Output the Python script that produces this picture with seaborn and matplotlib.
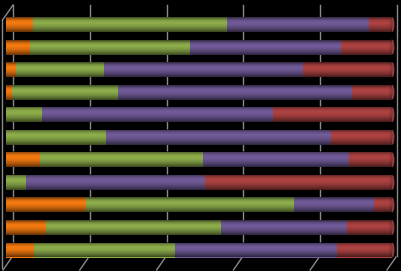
import numpy as np
import pandas as pd
import matplotlib
matplotlib.use("Agg")
import matplotlib.pyplot as plt
from matplotlib.patches import Ellipse
import seaborn as sns

# ---- data (percent shares per row) ----
rows = ["R1", "R2", "R3", "R4", "R5", "R6", "R7", "R8", "R9", "R10", "R11"]
orange = [7.0, 6.2, 2.6, 1.6, 0.0, 0.0, 8.8, 0.0, 20.7, 10.4, 7.3]
green = [50.3, 41.5, 22.8, 27.5, 9.3, 25.9, 42.2, 5.2, 53.9, 45.3, 36.5]
purple = [36.8, 39.1, 51.6, 60.6, 59.8, 58.3, 37.8, 46.4, 20.7, 32.6, 42.0]
red = [6.0, 13.2, 23.1, 10.4, 30.8, 15.8, 11.1, 48.4, 4.7, 11.7, 14.2]
series_colors = ["#F47A10", "#8DAD4B", "#715B99", "#AE4342"]

df = pd.DataFrame({"row": rows, "orange": orange, "green": green,
                   "purple": purple, "red": red})
tot = df[["orange", "green", "purple", "red"]].sum(axis=1)
for c in ["orange", "green", "purple", "red"]:
    df[c] = df[c] / tot * 100
df["c1"] = df["orange"]
df["c2"] = df["c1"] + df["green"]
df["c3"] = df["c2"] + df["purple"]
df["c4"] = df["c3"] + df["red"]

W, H = 402, 271
fig = plt.figure(figsize=(W / 100, H / 100), dpi=100, facecolor="black")
ax = fig.add_axes([0, 0, 1, 1])
ax.set_facecolor("black")

bar_h = 15 / 22.55
# draw cumulative bars from longest to shortest so they stack visually
for col, color in zip(["c4", "c3", "c2", "c1"], series_colors[::-1]):
    sns.barplot(data=df, x=col, y="row", orient="h", color=color,
                saturation=1, width=bar_h, linewidth=0, ax=ax, zorder=2)

def fx(px):
    return px / W

def fy(py):
    return 1 - py / H

# pixel -> data mapping for x: 0 -> 6px, 100 -> 392px
ppu = (392 - 6) / 100.0
ax.set_xlim(-6 / ppu, 100 + (W - 392) / ppu)
ax.set_ylim(10 + 21 / 22.55, -24.5 / 22.55)
ax.axis("off")

# cylinder shading overlay
t = np.linspace(0, 1, 60)
alpha = np.where(t < 0.38, 0.6 * ((0.38 - t) / 0.38) ** 2,
                 0.6 * ((t - 0.38) / 0.62) ** 1.6)
grad = np.zeros((len(t), 1, 4))
grad[:, 0, 3] = alpha
full = [p for p in ax.patches][:len(rows)]
for p in full:
    y0 = p.get_y()
    h = p.get_height()
    x1 = p.get_width()
    cap = Ellipse((x1, y0 + h / 2), width=5 / ppu, height=h,
                  facecolor="#94393A", edgecolor="none", lw=0, zorder=2.5)
    ax.add_patch(cap)
    ax.imshow(grad, extent=(0, x1, y0 + h, y0), aspect="auto",
              zorder=3, interpolation="bilinear")
ax.set_xlim(-6 / ppu, 100 + (W - 392) / ppu)
ax.set_ylim(10 + 21 / 22.55, -24.5 / 22.55)

# back-wall gridlines and floor diagonals
ticks = [0, 20, 40, 60, 80, 100]
gcol = "#8a8a8a"
for v in ticks:
    bx = 13 + 3.84 * v
    ax.plot([fx(bx), fx(bx)], [fy(5), fy(256)], color=gcol, lw=1,
            transform=fig.transFigure, zorder=1)
    ax.plot([fx(bx - 1), fx(bx - 10)], [fy(257), fy(270)], color=gcol,
            lw=1, transform=fig.transFigure, zorder=1)
# left wall edge
ax.plot([fx(2.5), fx(2.5)], [fy(20), fy(268)], color=gcol, lw=1,
        transform=fig.transFigure, zorder=1)
ax.plot([fx(2.5), fx(13)], [fy(20), fy(5)], color=gcol, lw=1,
        transform=fig.transFigure, zorder=1)

fig.savefig("out.png", dpi=100, facecolor="black")
